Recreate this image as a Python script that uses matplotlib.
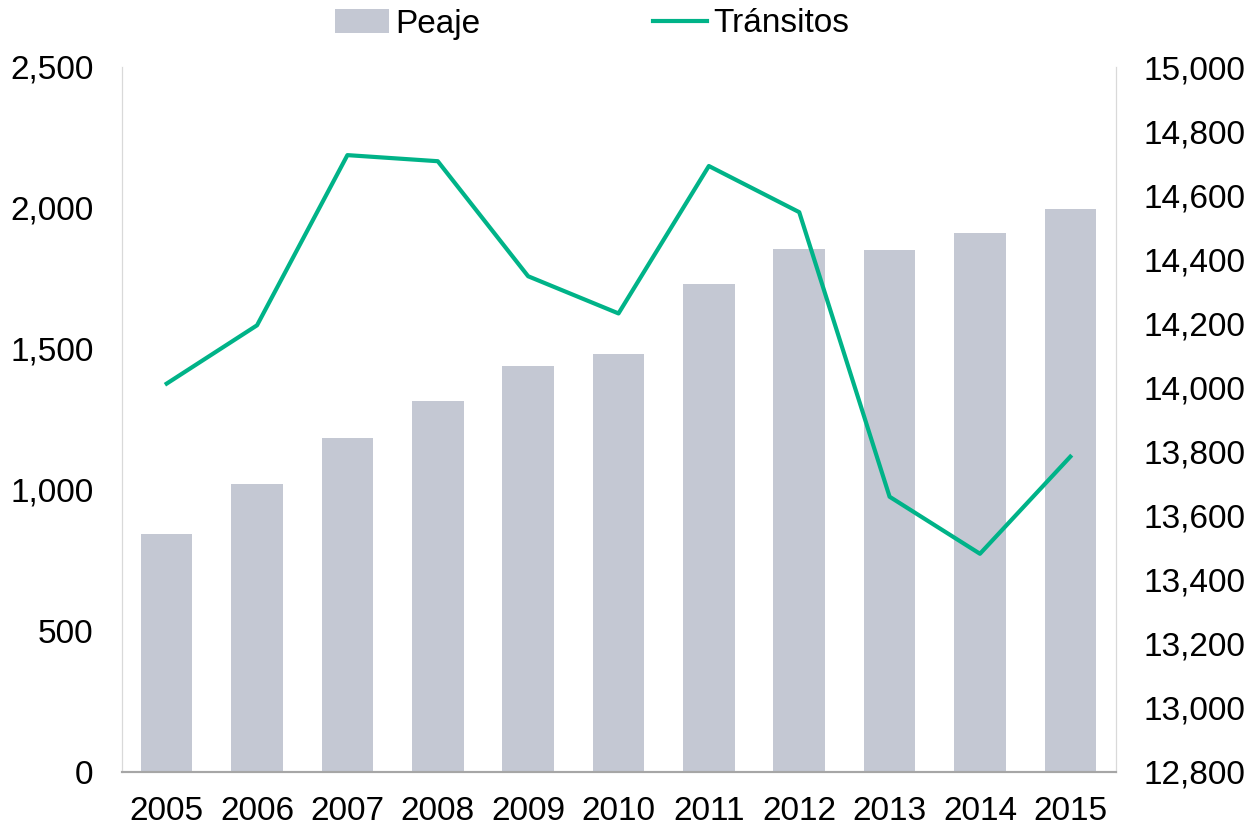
import matplotlib
matplotlib.use("Agg")
import matplotlib.pyplot as plt
from matplotlib.ticker import FuncFormatter

years = ["2005", "2006", "2007", "2008", "2009", "2010", "2011", "2012", "2013", "2014", "2015"]
peaje = [845, 1023, 1186, 1317, 1438, 1484, 1729, 1854, 1850, 1910, 1996]
transitos = [14012, 14194, 14725, 14706, 14347, 14231, 14691, 14547, 13659, 13481, 13784]

plt.rcParams['font.family'] = ['Liberation Sans', 'DejaVu Sans']

fig = plt.figure(figsize=(12.45, 8.26), dpi=100)
ax = fig.add_axes([121.5/1245, 1 - 772/826, (1115.5-121.5)/1245, (772-67)/826])
x = list(range(len(years)))
bars = ax.bar(x, peaje, width=0.57, color='#C4C8D3', label='Peaje', zorder=2)
ax.set_xlim(-0.5, len(years) - 0.5)
ax.set_ylim(0, 2500)
ax.set_yticks([0, 500, 1000, 1500, 2000, 2500])
ax.yaxis.set_major_formatter(FuncFormatter(lambda v, p: f"{int(v):,}"))
ax.set_xticks(x)
ax.set_xticklabels(years)

ax2 = ax.twinx()
line, = ax2.plot(x, transitos, color='#00B388', lw=3.0, label='Tránsitos', zorder=3)
ax2.set_ylim(12800, 15000)
ax2.set_yticks(list(range(12800, 15001, 200)))
ax2.yaxis.set_major_formatter(FuncFormatter(lambda v, p: f"{int(v):,}"))

for a in (ax, ax2):
    a.tick_params(length=0, labelsize=24, colors='black')
    a.spines['top'].set_visible(False)
    a.spines['left'].set_color('#D9D9D9')
    a.spines['right'].set_color('#D9D9D9')
    a.spines['bottom'].set_color('#A6A6A6')
    a.spines['bottom'].set_linewidth(1.5)
ax.tick_params(axis='y', pad=20)
ax2.tick_params(axis='y', pad=20)
ax.tick_params(axis='x', pad=17)

fig.legend([bars, line], ['Peaje', 'Tránsitos'], loc='center', bbox_to_anchor=(592/1245, 1 - 24/826),
           ncol=2, frameon=False, fontsize=24, handlelength=1.62, handletextpad=0.18,
           columnspacing=5.2, borderaxespad=0)

fig.savefig("out.png", dpi=100)
